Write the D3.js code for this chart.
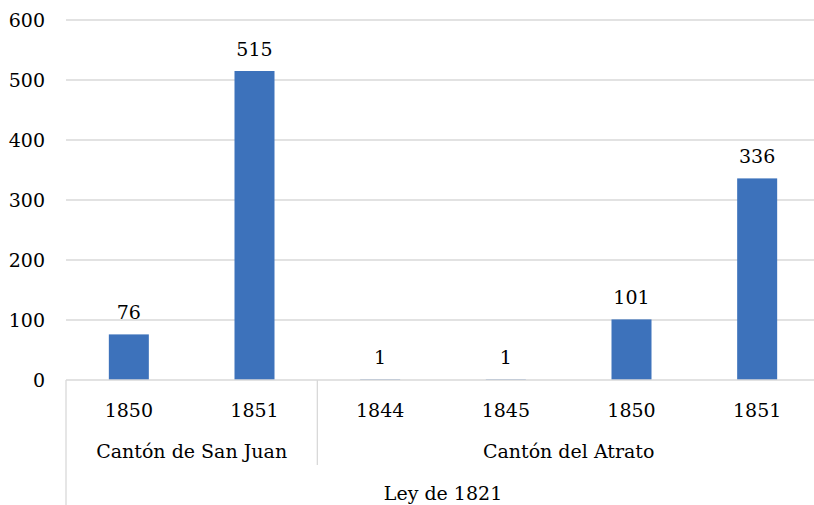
<!DOCTYPE html>
<html>
<head>
<meta charset="utf-8">
<script src="https://cdn.jsdelivr.net/npm/d3@7"></script>
<style>
  body { margin: 0; background: #fff; }
  svg text { font-family: "DejaVu Serif", serif; fill: #000; }
</style>
</head>
<body>
<div id="chart"></div>
<script>
// data
let years = ["1850", "1851", "1844", "1845", "1850", "1851"]
let values = [76, 515, 1, 1, 101, 336]
let groups = ["Cantón de San Juan", "Cantón de San Juan", "Cantón del Atrato", "Cantón del Atrato", "Cantón del Atrato", "Cantón del Atrato"]
let topLabel = "Ley de 1821"
let yTicks = [0, 100, 200, 300, 400, 500, 600]

let width = 814, height = 505
let margin = {top: 20, right: -6, bottom: 125, left: 66}
let innerW = width - margin.left - margin.right
let innerH = height - margin.top - margin.bottom

let svg = d3.select("#chart")
  .append("svg")
    .attr("width", width)
    .attr("height", height)

let g = svg.append("g")
    .attr("transform", "translate(" + margin.left + "," + margin.top + ")")

let keys = years.map((d, i) => i)

let x = d3.scaleBand()
  .domain(keys)
  .range([0, innerW])
  .paddingInner(0)

let y = d3.scaleLinear()
  .domain([0, 600])
  .range([innerH, 0])

// gridlines
g.selectAll(".grid")
  .data(yTicks.filter(d => d > 0))
  .enter()
  .append("line")
    .attr("x1", 0)
    .attr("x2", innerW)
    .attr("y1", d => y(d))
    .attr("y2", d => y(d))
    .attr("stroke", "#d9d9d9")
    .attr("stroke-width", 1.3)

// y labels
g.selectAll(".ylab")
  .data(yTicks)
  .enter()
  .append("text")
    .attr("x", -21)
    .attr("y", d => y(d))
    .attr("dy", "0.35em")
    .attr("text-anchor", "end")
    .style("font-size", "19px")
    .text(d => d)

// bars
let barW = 40
g.selectAll(".bar")
  .data(values)
  .enter()
  .append("rect")
    .attr("x", (d, i) => x(i) + x.bandwidth() / 2 - barW / 2)
    .attr("y", d => y(d))
    .attr("width", barW)
    .attr("height", d => innerH - y(d))
    .attr("fill", "#3d72bb")

// value labels
g.selectAll(".vlab")
  .data(values)
  .enter()
  .append("text")
    .attr("x", (d, i) => x(i) + x.bandwidth() / 2)
    .attr("y", d => y(d) - 15)
    .attr("text-anchor", "middle")
    .style("font-size", "19px")
    .text(d => d)

// axis line + separators
let axisCol = "#d9d9d9"
g.append("line")
  .attr("x1", 0).attr("x2", innerW)
  .attr("y1", innerH).attr("y2", innerH)
  .attr("stroke", axisCol).attr("stroke-width", 1.3)

g.append("line")
  .attr("x1", 0).attr("x2", 0)
  .attr("y1", innerH).attr("y2", height - margin.top)
  .attr("stroke", axisCol).attr("stroke-width", 1.3)

// group boundaries
let groupNames = Array.from(new Set(groups))
let groupSpans = groupNames.map(name => {
  let idx = keys.filter(i => groups[i] === name)
  return {name: name, x0: x(idx[0]), x1: x(idx[idx.length - 1]) + x.bandwidth()}
})

g.selectAll(".gsep")
  .data(groupSpans.slice(1))
  .enter()
  .append("line")
    .attr("x1", d => d.x0).attr("x2", d => d.x0)
    .attr("y1", innerH).attr("y2", innerH + 85)
    .attr("stroke", axisCol).attr("stroke-width", 1.3)

// year labels
g.selectAll(".xlab")
  .data(years)
  .enter()
  .append("text")
    .attr("x", (d, i) => x(i) + x.bandwidth() / 2)
    .attr("y", innerH + 30)
    .attr("dy", "0.35em")
    .attr("text-anchor", "middle")
    .style("font-size", "19px")
    .text(d => d)

// group labels
g.selectAll(".glab")
  .data(groupSpans)
  .enter()
  .append("text")
    .attr("x", d => (d.x0 + d.x1) / 2)
    .attr("y", innerH + 71)
    .attr("dy", "0.35em")
    .attr("text-anchor", "middle")
    .style("font-size", "19px")
    .text(d => d.name)

// top level label
g.append("text")
  .attr("x", innerW / 2)
  .attr("y", innerH + 113)
  .attr("dy", "0.35em")
  .attr("text-anchor", "middle")
  .style("font-size", "19px")
  .text(topLabel)
</script>
</body>
</html>
